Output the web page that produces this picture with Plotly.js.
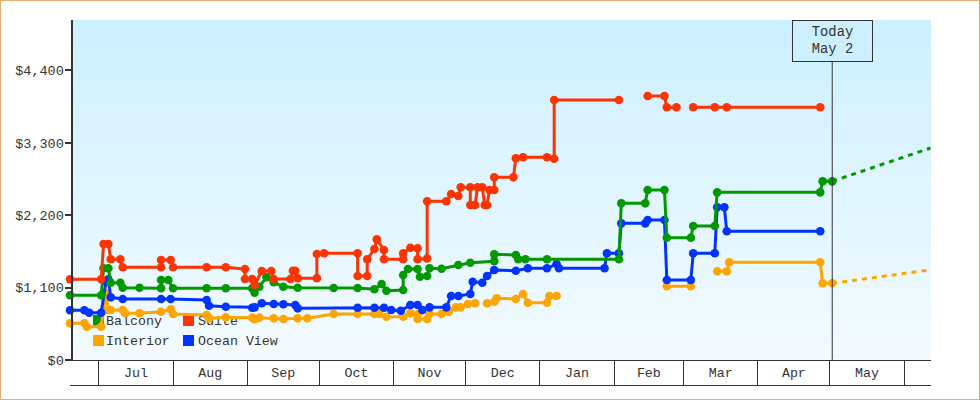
<!DOCTYPE html>
<html>
<head>
<meta charset="utf-8">
<script src="https://cdn.plot.ly/plotly-3.0.1.min.js"></script>
<style>
html,body{margin:0;padding:0;background:#fff}
#frame{position:absolute;left:0;top:0;width:980px;height:400px;box-sizing:border-box;border:1px solid #E8AD70}
#chart{position:absolute;left:0;top:0;width:980px;height:400px}
</style>
</head>
<body>
<div id="frame"></div>
<div id="chart"></div>
<script>
// Days are counted from 1 Jul 2023; null marks a gap in the fare history.
var startDate = '2023-07-01';
var todayDay = 306;

var suiteDays = [-12,1,2,4,5,9,10,26,26,30,31,45,53,61,61,64,65,68,72,73,80,81,82,83,91,91,94,108,108,112,112,115,116,119,119,127,127,130,133,133,137,137,145,147,150,151,155,155,157,158,160,161,162,163,165,165,173,174,177,187,190,190,217,218,229,236,237,241,245,248,257,262,301];
var suitePrices = [1226,1226,1762,1762,1530,1530,1408,1408,1519,1519,1408,1408,1408,1382,1230,1230,1139,1352,1352,1230,1230,1356,1356,1241,1241,1610,1621,1621,1276,1276,1530,1686,1833,1671,1530,1530,1621,1706,1697,1530,1541,2411,2411,2522,2491,2623,2623,2354,2354,2623,2623,2354,2354,2582,2582,2775,2775,3064,3079,3079,3058,3949,3949,null,4010,4010,3839,3839,null,3839,3839,3839,3839];

var balconyDays = [-12,1,2,4,5,9,10,17,26,26,29,31,45,53,64,65,67,70,73,77,83,98,108,115,118,120,127,127,129,133,134,137,138,143,150,155,165,165,174,175,178,187,217,218,228,229,236,237,247,248,257,258,301,302,306];
var balconyPrices = [983,983,1393,1393,1174,1174,1098,1098,1089,1215,1215,1089,1089,1089,1089,1022,1113,1256,1180,1113,1098,1094,1094,1074,1154,1053,1063,1291,1382,1382,1265,1276,1393,1387,1443,1478,1499,1605,1595,1530,1530,1530,1530,2380,2380,2582,2582,1858,1858,2035,2035,2547,2547,2714,2714];
var balconyOutlookDays = [306,347];
var balconyOutlook = [2714,3220];

var interiorDays = [-12,-6,-5,1,3,4,5,10,11,17,26,30,31,45,46,53,64,65,67,73,77,83,87,98,108,115,117,120,127,130,133,133,137,138,143,146,149,151,154,157,null,162,165,166,174,177,179,187,188,191,null,237,247,null,258,262,263,301,302,306];
var interiorPrices = [557,557,506,506,1013,760,760,760,709,709,734,770,699,684,633,649,643,618,643,633,623,633,633,699,699,699,699,658,658,709,694,623,623,699,699,734,800,800,851,861,null,861,886,937,927,1003,870,870,972,972,null,1120,1120,null,1347,1347,1484,1484,1165,1165];
var interiorOutlookDays = [306,347];
var interiorOutlook = [1165,1370];

var oceanDays = [-12,-6,-4,1,3,4,5,10,26,30,45,46,53,64,65,68,73,77,82,83,108,115,119,122,126,130,133,135,138,145,147,150,155,156,160,162,165,174,179,187,191,192,211,212,217,218,228,229,236,237,247,248,257,258,261,262,301];
var oceanPrices = [755,755,718,718,1189,1226,952,927,927,927,911,825,810,794,800,861,851,846,835,785,794,794,794,760,749,835,835,760,800,800,972,972,1003,1189,1174,1276,1367,1356,1393,1393,1458,1393,1393,1621,1621,2076,2076,2127,2127,1215,1215,1621,1621,2320,2320,1955,1955];

var priceTicks = [0,1100,2200,3300,4400];
var priceLabels = ['$0','$1,100','$2,200','$3,300','$4,400'];
var legendRows = [['Balcony','Suite'],['Interior','Ocean View']];

var colors = {Balcony:'#009900', Suite:'#FF3300', Interior:'#FFA500', 'Ocean View':'#0033FF'};
var ink = '#333333';
var FONT = '"Liberation Mono", monospace';

function toDate(d){
  if (d === null) return null;
  var t = new Date(startDate + 'T00:00:00Z');
  t.setUTCDate(t.getUTCDate() + d);
  return t.toISOString().slice(0,10);
}
function fares(name, days, prices){
  return {type:'scatter', mode:'lines+markers', name:name, x:days.map(toDate), y:prices,
    connectgaps:false, cliponaxis:false, showlegend:false,
    line:{color:colors[name], width:3},
    marker:{color:colors[name], symbol:'circle', size:8.6, line:{width:0}}};
}
function outlook(name, days, prices){
  return {type:'scatter', mode:'lines', name:name+' outlook', x:days.map(toDate), y:prices,
    showlegend:false, cliponaxis:false, hoverinfo:'skip',
    line:{color:colors[name], width:3, dash:'5px,5px'}};
}
var traces = [
  outlook('Interior', interiorOutlookDays, interiorOutlook),
  outlook('Balcony', balconyOutlookDays, balconyOutlook),
  fares('Interior', interiorDays, interiorPrices),
  fares('Ocean View', oceanDays, oceanPrices),
  fares('Balcony', balconyDays, balconyPrices),
  fares('Suite', suiteDays, suitePrices)
];

var W = 980, H = 400, L = 70, R = 931, T = 20, B = 360;
function px(x){ return (x-L)/(R-L); }
function py(y){ return (B-y)/(B-T); }

var gradient = 'data:image/svg+xml;utf8,' + encodeURIComponent(
  '<svg xmlns="http://www.w3.org/2000/svg" width="100" height="100" preserveAspectRatio="none">' +
  '<defs><linearGradient id="g" x1="0" y1="0" x2="0" y2="1">' +
  '<stop offset="0" stop-color="#CCF0FF"/><stop offset="1" stop-color="#F4FBFF"/></linearGradient></defs>' +
  '<rect width="100" height="100" fill="url(#g)"/></svg>');

var shapes = [
  {type:'line', xref:'paper', yref:'paper', x0:px(70), x1:px(931), y0:py(385.5), y1:py(385.5), line:{color:ink,width:1}},
  {type:'line', xref:'x', yref:'paper', x0:toDate(todayDay), x1:toDate(todayDay), y0:0, y1:1, line:{color:ink,width:1}}
];
var legendX = [[93,103],[183,195]], legendY = [320.5,340.5];
legendRows.forEach(function(row,r){
  row.forEach(function(name,c){
    shapes.push({type:'rect', layer:'below', xref:'paper', yref:'paper',
      x0:px(legendX[c][0]), x1:px(legendX[c][0]+11), y0:py(legendY[r]+5.5), y1:py(legendY[r]-5.5),
      fillcolor:colors[name], line:{width:0}});
    shapes.push({type:'rect', layer:'below', xref:'paper', yref:'paper',
      x0:px(legendX[c][1]), x1:px(legendX[c][1]+84), y0:py(legendY[r]+7), y1:py(legendY[r]-9),
      fillcolor:'rgba(0,0,0,0)', line:{width:0},
      label:{text:name, textposition:'middle left', padding:0, font:{family:FONT,size:13.3,color:ink}}});
  });
});

var layout = {
  width:W, height:H,
  margin:{l:L, r:W-R, t:T, b:H-B, pad:0},
  paper_bgcolor:'rgba(0,0,0,0)', plot_bgcolor:'rgba(0,0,0,0)',
  font:{family:FONT, size:13.3, color:ink},
  showlegend:false,
  xaxis:{type:'date', range:[toDate(-12), '2024-06-12 05:00'],
    dtick:'M1', tick0:startDate, tickformat:'%b', ticklabelmode:'period',
    ticks:'outside', ticklen:25, tickwidth:1, tickcolor:ink,
    ticklabelstandoff:-25,
    showgrid:false, zeroline:false, showline:true, linecolor:ink, linewidth:1,
    tickfont:{family:FONT,size:13.3,color:ink}},
  yaxis:{range:[0,5165], tickmode:'array', tickvals:priceTicks, ticktext:priceLabels,
    anchor:'free', position:(71.5-L)/(R-L),
    ticks:'outside', ticklen:6, tickwidth:2, tickcolor:ink, ticklabelstandoff:-2,
    showgrid:false, zeroline:false, showline:true, linecolor:ink, linewidth:2,
    tickfont:{family:FONT,size:13.5,color:ink}},
  images:[{source:gradient, xref:'paper', yref:'paper', x:px(72), y:1, sizex:px(931)-px(72), sizey:1,
    xanchor:'left', yanchor:'top', sizing:'stretch', layer:'below'}],
  shapes:shapes,
  annotations:[{xref:'paper', yref:'paper', x:px(832.5), y:py(20), xanchor:'center', yanchor:'top',
    text:'Today<br>May 2', showarrow:false, align:'center', valign:'middle',
    width:79, height:40, borderpad:0, borderwidth:1, bordercolor:ink, bgcolor:'#CDF0FF',
    font:{family:FONT,size:13.8,color:ink}}]
};
Plotly.newPlot('chart', traces, layout, {displayModeBar:false, staticPlot:true});
</script>
</body>
</html>
